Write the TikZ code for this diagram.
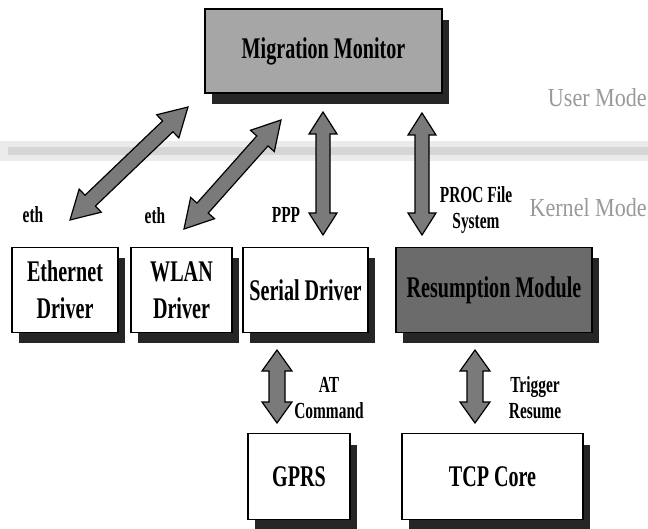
\documentclass[tikz,border=0pt]{standalone}
\usepackage{fontspec}
\setmainfont{Liberation Serif}[FakeStretch=0.67]
\newfontfamily\modefamily{Liberation Serif}[FakeStretch=0.85]
\usetikzlibrary{calc,shadows}

\newcommand\labelfont{\fontsize{30}{37}\selectfont\bfseries}
\newcommand\notefont{\fontsize{23}{26}\selectfont\bfseries}
\newcommand\modefont{\modefamily\fontsize{26}{30}\selectfont}

% Double-headed block arrow between two named points.
% #1,#2: end points; #3: head length; #4: head half-width; #5: shaft half-width
\newcommand\dblarrow[5]{%
  \filldraw[arrowbody]
    (#1)
    -- ($(#1)!#3!(#2)!#4!90:(#2)$)
    -- ($(#1)!#3!(#2)!#5!90:(#2)$)
    -- ($(#2)!#3!(#1)!#5!-90:(#1)$)
    -- ($(#2)!#3!(#1)!#4!-90:(#1)$)
    -- (#2)
    -- ($(#2)!#3!(#1)!#4!90:(#1)$)
    -- ($(#2)!#3!(#1)!#5!90:(#1)$)
    -- ($(#1)!#3!(#2)!#5!-90:(#2)$)
    -- ($(#1)!#3!(#2)!#4!-90:(#2)$)
    -- cycle;}

\begin{document}
\begin{tikzpicture}[x=1pt,y=-1pt,
  module/.style={draw=black, line width=1.2pt, fill=white, minimum height=85pt,
    inner sep=0pt, align=center, font=\labelfont,
    drop shadow={shadow xshift=7pt, shadow yshift=-11pt, fill=black!85, opacity=1}},
  darkmodule/.style={module, fill=black!58},
  note/.style={font=\notefont, align=center, inner sep=0pt},
  modenote/.style={font=\modefont, text=black!40, inner sep=0pt},
  arrowbody/.style={fill=black!52, draw=black, line width=1.2pt, line join=miter},
]
\useasboundingbox (0,0) rectangle (648,529);

% boundary between user space and kernel space
\draw[line width=20pt, black!8] (0,151) -- (648,151);
\draw[line width=8pt, black!16] (8,151) -- (648,151);

% modules
\node[module, minimum width=237pt, minimum height=84pt, fill=black!35] (mm) at (323.5,51) {Migration Monitor};
\node[module, minimum width=106pt] (eth) at (65,290) {Ethernet\\Driver};
\node[module, minimum width=101pt] (wlan) at (181.5,290) {WLAN\\Driver};
\node[module, minimum width=125pt] (ser) at (305.5,290) {Serial Driver};
\node[darkmodule, minimum width=196pt] (res) at (494,290) {Resumption Module};
\node[module, minimum width=102pt, minimum height=86pt] (gprs) at (299,476.5) {GPRS};
\node[module, minimum width=181pt, minimum height=86pt] (tcp) at (492.5,476.5) {TCP Core};

% mode captions
\node[modenote, anchor=east] (um) at (647,98) {User Mode};
\node[modenote, anchor=east] (km) at (647,208) {Kernel Mode};

% interface labels
\node[note] (l1) at (33,215) {eth};
\node[note] (l2) at (155,216) {eth};
\node[note] (l3) at (286,215) {PPP};
\node[note] (l4) at (476,210) {PROC File\\System};
\node[note] (l5) at (329,398) {AT\\Command};
\node[note] (l6) at (535,398) {Trigger\\Resume};

% arrow end points
\coordinate (d1a) at (70,220);  \coordinate (d1b) at (188,107);
\coordinate (d2a) at (184,229); \coordinate (d2b) at (281,120);
\coordinate (p1a) at (323,112); \coordinate (p1b) at (323,235);
\coordinate (p2a) at (422,113); \coordinate (p2b) at (422,235);
\coordinate (at1) at (277,350); \coordinate (at2) at (277,423);
\coordinate (tr1) at (475,350); \coordinate (tr2) at (475,423);

% block arrows
\dblarrow{d1a}{d1b}{28pt}{16pt}{7.5pt}
\dblarrow{d2a}{d2b}{28pt}{16pt}{7.5pt}
\dblarrow{p1a}{p1b}{22pt}{14pt}{7pt}
\dblarrow{p2a}{p2b}{22pt}{14pt}{7pt}
\dblarrow{at1}{at2}{21pt}{15pt}{8pt}
\dblarrow{tr1}{tr2}{21pt}{15pt}{8pt}
\end{tikzpicture}
\end{document}
